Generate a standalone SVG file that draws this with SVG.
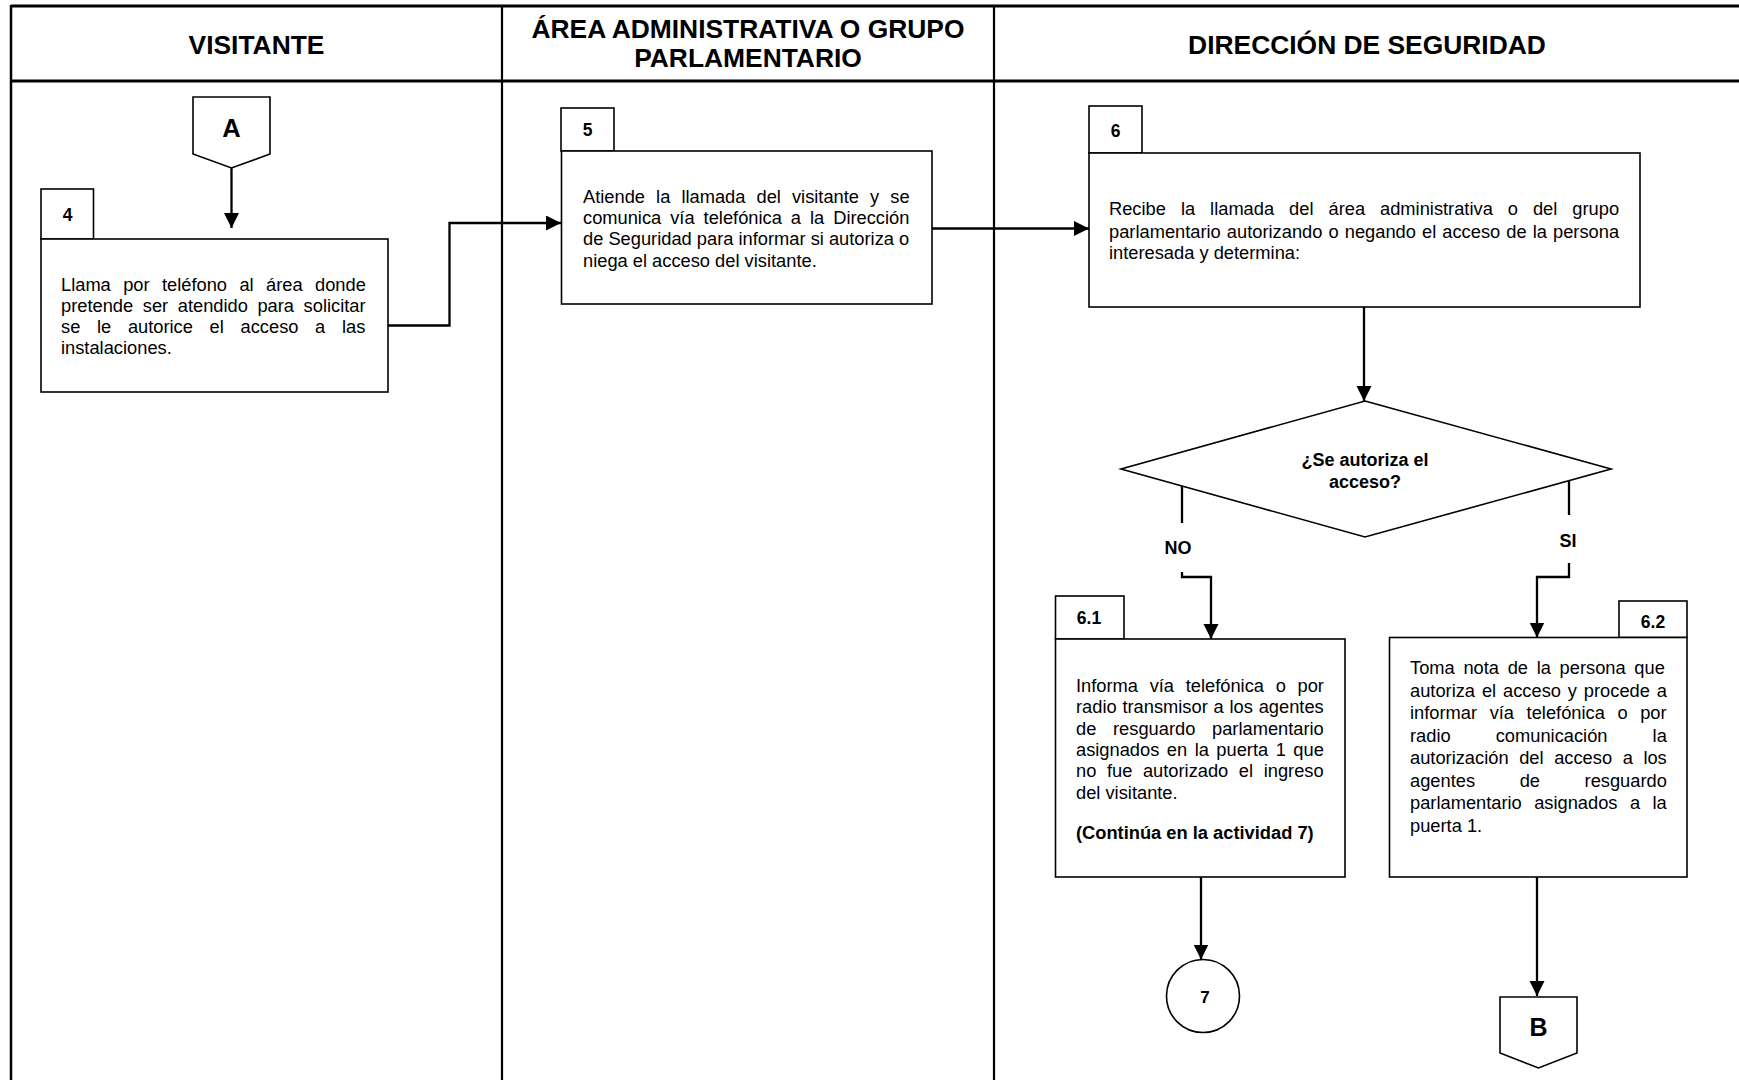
<svg xmlns="http://www.w3.org/2000/svg" width="1739" height="1080" viewBox="0 0 1739 1080">
  <defs>
    <style>
      text { font-family: "Liberation Sans", Arial, sans-serif; fill: #000; }
      .t { font-size: 18.3px; }
      .b { font-weight: bold; }
      .hd { font-size: 26.4px; font-weight: bold; text-anchor: middle; }
      .tab { font-size: 17.5px; font-weight: bold; text-anchor: middle; }
      .q { font-size: 18px; font-weight: bold; text-anchor: middle; }
      .box { fill: #fff; stroke: #000; stroke-width: 1.6; }
      .frame { fill: none; stroke: #000; }
      .ln { fill: none; stroke: #000; stroke-width: 2.3; }
      .arr { marker-end: url(#head); }
    </style>
    <marker id="head" markerWidth="16" markerHeight="16" refX="15" refY="7.5" orient="auto" markerUnits="userSpaceOnUse">
      <path d="M0,0 L15,7.5 L0,15 z" fill="#000"/>
    </marker>
  </defs>

  <rect width="1739" height="1080" fill="#fff"/>

  <!-- swimlane frame and headers -->
  <g id="lanes">
    <line class="frame" x1="11" y1="6" x2="1739" y2="6" stroke-width="3"/>
    <line class="frame" x1="11" y1="81" x2="1739" y2="81" stroke-width="3"/>
    <line class="frame" x1="11" y1="5" x2="11" y2="1080" stroke-width="2.5"/>
    <line class="frame" x1="502" y1="5" x2="502" y2="1080" stroke-width="2.2"/>
    <line class="frame" x1="994" y1="5" x2="994" y2="1080" stroke-width="2.2"/>
    <text class="hd" x="256.5" y="53.5">VISITANTE</text>
    <text class="hd" x="748" y="37.5">ÁREA ADMINISTRATIVA O GRUPO</text>
    <text class="hd" x="748" y="67">PARLAMENTARIO</text>
    <text class="hd" x="1367" y="53.5">DIRECCIÓN DE SEGURIDAD</text>
  </g>

  <!-- off-page connector A -->
  <g id="node-A">
    <polygon class="box" points="193,97 270,97 270,154 231.5,168 193,154"/>
    <text class="hd" x="231.5" y="136.5" style="font-size:25.5px">A</text>
  </g>

  <!-- activity 4 -->
  <g id="node-4">
    <rect class="box" x="41" y="189" width="52.5" height="50" stroke-width="1.3"/>
    <text class="tab" x="67.5" y="220.5">4</text>
    <rect class="box" x="41" y="239" width="347" height="153"/>
    <text class="t" x="61" y="291" style="word-spacing:7.3px">Llama por teléfono al área donde</text>
    <text class="t" x="61" y="312" style="word-spacing:4.5px">pretende ser atendido para solicitar</text>
    <text class="t" x="61" y="333" style="word-spacing:11.6px">se le autorice el acceso a las</text>
    <text class="t" x="61" y="354">instalaciones.</text>
  </g>

  <!-- activity 5 -->
  <g id="node-5">
    <rect class="box" x="561" y="108" width="53" height="43" stroke-width="1.3"/>
    <text class="tab" x="587.5" y="135.5">5</text>
    <rect class="box" x="561.5" y="151" width="370.5" height="153"/>
    <text class="t" x="583" y="202.5" style="word-spacing:6px">Atiende la llamada del visitante y se</text>
    <text class="t" x="583" y="223.5" style="word-spacing:3.9px">comunica vía telefónica a la Dirección</text>
    <text class="t" x="583" y="245">de Seguridad para informar si autoriza o</text>
    <text class="t" x="583" y="266.5">niega el acceso del visitante.</text>
  </g>

  <!-- activity 6 -->
  <g id="node-6">
    <rect class="box" x="1089" y="106" width="53" height="47" stroke-width="1.3"/>
    <text class="tab" x="1115.5" y="137">6</text>
    <rect class="box" x="1089" y="153" width="551" height="154"/>
    <text class="t" x="1109" y="215" style="word-spacing:9.9px">Recibe la llamada del área administrativa o del grupo</text>
    <text class="t" x="1109" y="237.5" style="word-spacing:1px">parlamentario autorizando o negando el acceso de la persona</text>
    <text class="t" x="1109" y="259">interesada y determina:</text>
  </g>

  <!-- decision -->
  <g id="decision">
    <polygon class="box" points="1365,401 1611,469 1365,537 1121,469"/>
    <text class="q" x="1365" y="465.5">¿Se autoriza el</text>
    <text class="q" x="1365" y="487.5">acceso?</text>
  </g>

  <!-- activity 6.1 -->
  <g id="node-6-1">
    <rect class="box" x="1055.5" y="596" width="68.5" height="43" stroke-width="1.3"/>
    <text class="tab" x="1089" y="624">6.1</text>
    <rect class="box" x="1055.5" y="639" width="289.5" height="238"/>
    <text class="t" x="1076" y="692" style="word-spacing:6.6px">Informa vía telefónica o por</text>
    <text class="t" x="1076" y="713" style="word-spacing:0.7px">radio transmisor a los agentes</text>
    <text class="t" x="1076" y="735" style="word-spacing:11.6px">de resguardo parlamentario</text>
    <text class="t" x="1076" y="756" style="word-spacing:2.4px">asignados en la puerta 1 que</text>
    <text class="t" x="1076" y="777" style="word-spacing:5.5px">no fue autorizado el ingreso</text>
    <text class="t" x="1076" y="798.5">del visitante.</text>
    <text class="t b" x="1076" y="838.5">(Continúa en la actividad 7)</text>
  </g>

  <!-- activity 6.2 -->
  <g id="node-6-2">
    <rect class="box" x="1619" y="601" width="68" height="36.5" stroke-width="1.3"/>
    <text class="tab" x="1653" y="628">6.2</text>
    <rect class="box" x="1389.5" y="637.5" width="297.5" height="239.5"/>
    <text class="t" x="1410" y="674" style="word-spacing:3.6px">Toma nota de la persona que</text>
    <text class="t" x="1410" y="696.5" style="word-spacing:1.8px">autoriza el acceso y procede a</text>
    <text class="t" x="1410" y="719" style="word-spacing:7.5px">informar vía telefónica o por</text>
    <text class="t" x="1410" y="741.5" style="word-spacing:40px">radio comunicación la</text>
    <text class="t" x="1410" y="764" style="word-spacing:5.5px">autorización del acceso a los</text>
    <text class="t" x="1410" y="786.5" style="word-spacing:39.5px">agentes de resguardo</text>
    <text class="t" x="1410" y="809" style="word-spacing:7.3px">parlamentario asignados a la</text>
    <text class="t" x="1410" y="832">puerta 1.</text>
  </g>

  <!-- on-page connector 7 -->
  <g id="node-7">
    <ellipse class="box" cx="1203" cy="996" rx="36.5" ry="36.5"/>
    <text class="tab" x="1205" y="1003" style="font-size:17px">7</text>
  </g>

  <!-- off-page connector B -->
  <g id="node-B">
    <polygon class="box" points="1500,997 1577,997 1577,1053 1538.5,1068 1500,1053"/>
    <text class="hd" x="1538.5" y="1035.5" style="font-size:25px">B</text>
  </g>

  <!-- connectors -->
  <g id="connectors">
    <path class="ln arr" d="M231.5,168 V228"/>
    <path class="ln arr" d="M388,325.5 H449.5 V223 H561"/>
    <path class="ln arr" d="M932,228.5 H1089"/>
    <path class="ln arr" d="M1364,307 V401"/>
    <path class="ln" d="M1182,486 V523"/>
    <path class="ln arr" d="M1182,572 V577 H1211 V639"/>
    <path class="ln" d="M1569,480.5 V515"/>
    <path class="ln arr" d="M1569,563 V577 H1537 V637.5"/>
    <path class="ln arr" d="M1201,877 V959.5"/>
    <path class="ln arr" d="M1537,877 V996"/>
    <text class="q" x="1178" y="553.5">NO</text>
    <text class="q" x="1568" y="546.5">SI</text>
  </g>
</svg>
